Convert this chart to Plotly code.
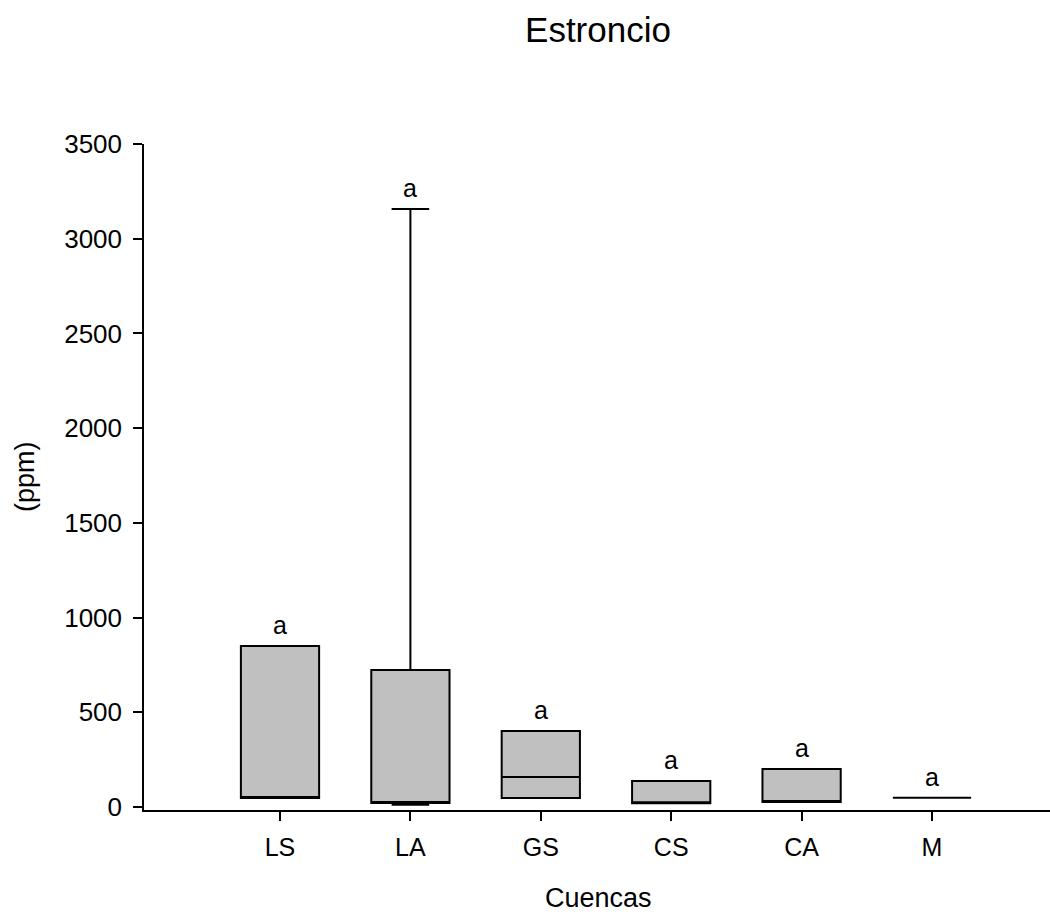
import plotly.graph_objects as go

# Basin categories and summary statistics of strontium (ppm)
cuencas = ["LS", "LA", "GS", "CS", "CA", "M"]
lower_fence = [47, 12, 47, 20, 26, 49]
q1 = [47, 21, 47, 20, 26, 49]
median = [52, 25, 158, 22, 32, 49]
q3 = [850, 723, 401, 137, 200, 49]
upper_fence = [850, 3157, 401, 137, 200, 49]
letras = ["a", "a", "a", "a", "a", "a"]

y_ticks = [0, 500, 1000, 1500, 2000, 2500, 3000, 3500]

FONT = "Arial, Liberation Sans, sans-serif"
pos = list(range(len(cuencas)))

fig = go.Figure()
fig.add_trace(go.Box(
    x=pos,
    q1=q1,
    median=median,
    q3=q3,
    lowerfence=lower_fence,
    upperfence=upper_fence,
    width=0.6,
    whiskerwidth=0.48,
    fillcolor="#C0C0C0",
    line=dict(color="black", width=2),
    boxpoints=False,
    hoverinfo="skip",
    showlegend=False,
))

# Significance letters above each box
for xi, top, txt in zip(pos, upper_fence, letras):
    fig.add_annotation(
        x=xi, y=top, text=txt, showarrow=False,
        yanchor="bottom", yshift=5,
        font=dict(family=FONT, size=25, color="black"),
    )

fig.update_layout(
    width=1050, height=917,
    margin=dict(l=144, r=0, t=144, b=107),
    paper_bgcolor="white", plot_bgcolor="white",
    font=dict(family=FONT, color="black"),
    title=dict(
        text="Estroncio", x=598 / 1050, xanchor="center",
        y=1 - 30 / 917, yanchor="middle", yref="container",
        font=dict(family=FONT, size=35, color="black"),
    ),
    annotations=list(fig.layout.annotations) + [
        dict(text="Cuencas", xref="paper", yref="paper",
             x=(598 - 144) / 906, y=0, yshift=-88, xanchor="center",
             yanchor="middle", showarrow=False,
             font=dict(family=FONT, size=27, color="black")),
        dict(text="(ppm)", xref="paper", yref="paper",
             x=0, xshift=-119, y=(810 - 477) / 666, xanchor="center",
             yanchor="middle", textangle=-90, showarrow=False,
             font=dict(family=FONT, size=27, color="black")),
    ],
)

fig.update_xaxes(
    range=[-1.043, 5.905],
    tickmode="array", tickvals=pos, ticktext=cuencas,
    ticks="outside", ticklen=9, tickwidth=1.5, tickcolor="black",
    ticklabelstandoff=5,
    showline=True, linecolor="black", linewidth=1.5,
    showgrid=False, zeroline=False,
    tickfont=dict(family=FONT, size=25, color="black"),
)
fig.update_yaxes(
    range=[-16, 3500],
    tickmode="array", tickvals=y_ticks, ticktext=[str(v) for v in y_ticks],
    ticks="outside", ticklen=9, tickwidth=1.5, tickcolor="black",
    ticklabelstandoff=6,
    showline=True, linecolor="black", linewidth=1.5,
    showgrid=False, zeroline=False,
    tickfont=dict(family=FONT, size=26, color="black"),
)

fig.write_html("out.html")
